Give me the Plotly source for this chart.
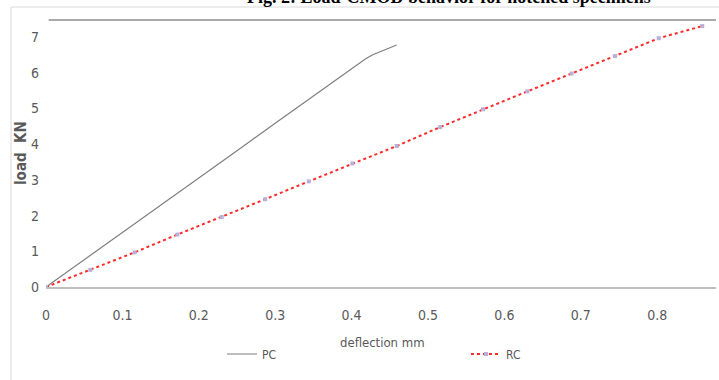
import plotly.graph_objects as go

# Data
pc_x = [0.0, 0.05, 0.10, 0.15, 0.20, 0.25, 0.30, 0.35, 0.40, 0.418, 0.427, 0.440, 0.459]
pc_y = [0.0, 0.76, 1.53, 2.29, 3.06, 3.82, 4.59, 5.35, 6.12, 6.39, 6.50, 6.62, 6.78]

rc_x = [0.0, 0.058, 0.116, 0.172, 0.230, 0.287, 0.344, 0.401, 0.459, 0.516, 0.572, 0.630, 0.688, 0.745, 0.802, 0.859]
rc_y = [0.0, 0.48, 0.97, 1.47, 1.96, 2.46, 2.96, 3.46, 3.95, 4.48, 4.98, 5.48, 5.98, 6.47, 6.97, 7.31]

x_ticks = [0, 0.1, 0.2, 0.3, 0.4, 0.5, 0.6, 0.7, 0.8]
x_tick_labels = ["0", "0.1", "0.2", "0.3", "0.4", "0.5", "0.6", "0.7", "0.8"]
y_ticks = [0, 1, 2, 3, 4, 5, 6, 7]
y_tick_labels = ["0", "1", "2", "3", "4", "5", "6", "7"]

title_text = "Fig. 2: Load-CMOD behavior for notched specimens"
x_title = "deflection mm"
y_title = "load  KN"

FONT = "Liberation Sans Narrow, DejaVu Sans Condensed, Roboto Condensed, Roboto, sans-serif"
GRAY = "#595959"

def f(size, color=GRAY, weight="normal"):
    return dict(family=FONT, size=size, color=color, weight=weight)

W, H = 719, 380
L, R, T, B = 46, 3, 20, 93
pw = W - L - R
ph = H - T - B

def px_x(p):
    return (p - L) / pw

def px_y(p):
    return (H - B - p) / ph

fig = go.Figure()
fig.add_trace(go.Scatter(x=pc_x, y=pc_y, mode="lines", name="PC", legend="legend",
                         line=dict(color="#7f7f7f", width=1.2)))
fig.add_trace(go.Scatter(x=rc_x, y=rc_y, mode="lines+markers", name="RC", legend="legend2",
                         line=dict(color="#ff2a2a", width=2, dash="dot"),
                         marker=dict(symbol="square", size=4, color="#b9b0d8")))

leg_common = dict(orientation="h", xanchor="left", yanchor="middle",
                  font=f(12), bgcolor="rgba(0,0,0,0)", itemclick=False,
                  borderwidth=0, tracegroupgap=0)

fig.update_layout(
    width=W, height=H,
    margin=dict(l=L, r=R, t=T, b=B, autoexpand=False),
    paper_bgcolor="white", plot_bgcolor="white",
    font=f(13),
    showlegend=True,
    legend=dict(x=px_x(222), y=px_y(354), **leg_common),
    legend2=dict(x=px_x(466), y=px_y(354), **leg_common),
    xaxis=dict(range=[0, 0.877], tickvals=x_ticks, ticktext=x_tick_labels,
               showgrid=False, zeroline=False, showline=True, linecolor="#bfbfbf",
               linewidth=1.5, ticks="", ticklabelstandoff=14, automargin=False,
               tickfont=f(14)),
    yaxis=dict(range=[0, 7.48], tickvals=y_ticks, ticktext=y_tick_labels,
               showgrid=False, zeroline=False, showline=False, ticks="",
               ticklabelstandoff=6, automargin=False,
               tickfont=f(14)),
)

shapes = [
    dict(type="line", xref="paper", yref="paper", x0=0.004, x1=1, y0=1, y1=1,
         line=dict(color="#8c8c8c", width=1.5)),
    dict(type="rect", xref="paper", yref="paper", x0=px_x(11), x1=px_x(730),
         y0=px_y(400), y1=px_y(7), line=dict(color="#d9d9d9", width=1)),
]
fig.update_layout(shapes=shapes)

fig.add_annotation(text="<b>" + title_text + "</b>", xref="paper", yref="paper",
                   x=px_x(449), y=px_y(8), xanchor="center", yanchor="bottom",
                   showarrow=False, borderpad=0,
                   font=dict(family="Liberation Serif, Times New Roman, serif", size=18, color="black"))
fig.add_annotation(text="<b>" + y_title + "</b>", xref="paper", yref="paper",
                   x=px_x(21), y=px_y(153), textangle=-90, showarrow=False,
                   xanchor="center", yanchor="middle",
                   font=f(15))
fig.add_annotation(text=x_title, xref="paper", yref="paper",
                   x=px_x(382), y=px_y(342), showarrow=False,
                   xanchor="center", yanchor="middle",
                   font=f(13))

fig.write_html("out.html", config={"displayModeBar": False},
               post_script="document.body.style.margin='0';document.body.style.overflow='hidden';")
